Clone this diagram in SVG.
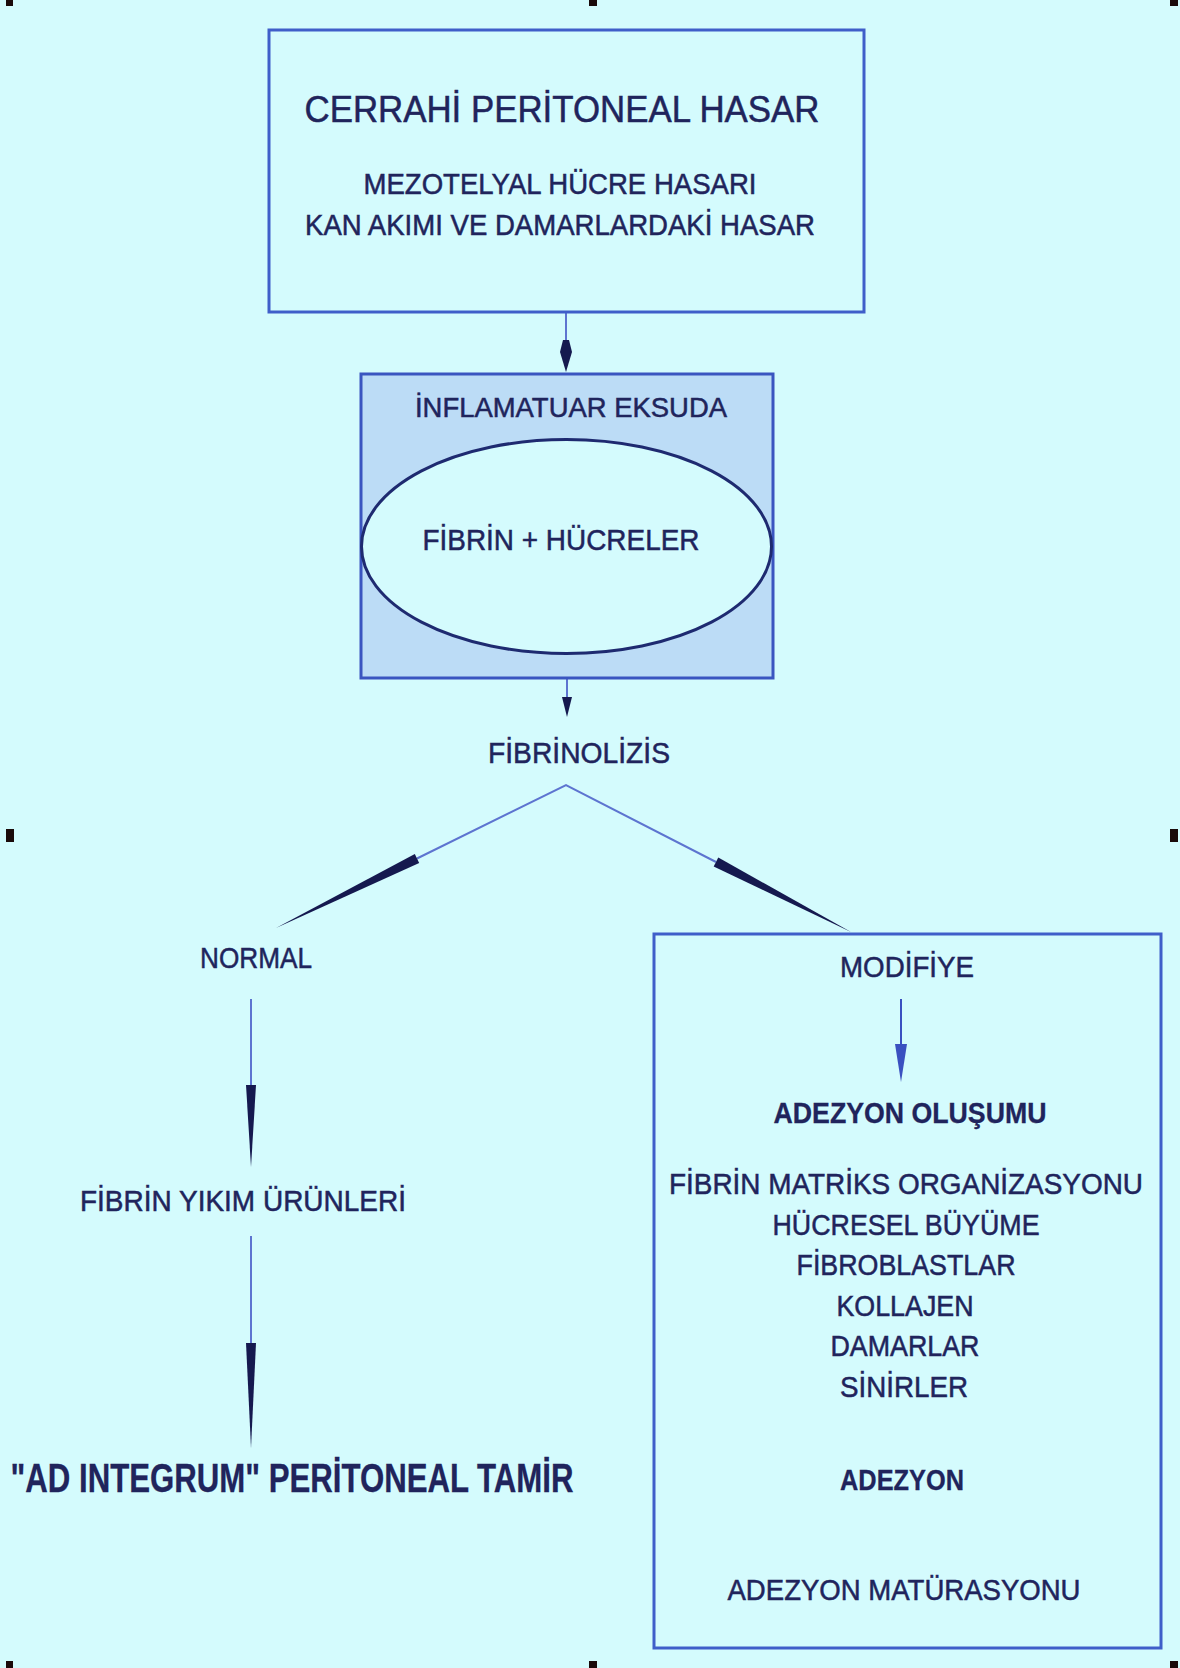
<svg xmlns="http://www.w3.org/2000/svg" width="1180" height="1668" viewBox="0 0 1180 1668">
<style>
.t{font-family:"Liberation Sans",Arial,sans-serif;fill:#20245c;stroke:#20245c;stroke-width:0.5;text-anchor:middle}
.b{font-weight:bold;stroke-width:0.3}
.box{fill:none;stroke:#3f5ec9;stroke-width:3}
.thin{stroke:#5d74d0;stroke-width:2;fill:none}
.head{fill:#15194f}
.mk{fill:#1a0a0a}
</style>
<rect x="0" y="0" width="1180" height="1668" fill="#d4fbfd"/>
<g id="markers">
<rect class="mk" x="6" y="0" width="7" height="6"/>
<rect class="mk" x="589" y="0" width="8" height="6"/>
<rect class="mk" x="1170" y="0" width="8" height="6"/>
<rect class="mk" x="6" y="829" width="8" height="13"/>
<rect class="mk" x="1170" y="829" width="8" height="13"/>
<rect class="mk" x="6" y="1661" width="7" height="7"/>
<rect class="mk" x="589" y="1661" width="8" height="7"/>
<rect class="mk" x="1170" y="1661" width="8" height="7"/>
</g>
<g id="connectors">
<line class="thin" x1="566" y1="312" x2="566" y2="345"/>
<polygon class="head" points="563,340 569,340 572,352 566,372 560,352"/>
<line class="thin" x1="567" y1="678" x2="567" y2="700"/>
<polygon class="head" points="562,697 572,697 567,717"/>
<polyline class="thin" points="417,858.5 566,785 716,862"/>
<polygon class="head" points="419.2,863 414.8,854 276,928"/>
<polygon class="head" points="713.7,866.5 718.3,857.5 851,932"/>
<line class="thin" x1="251" y1="999" x2="251" y2="1090"/>
<polygon class="head" points="246,1085 256,1085 251,1167"/>
<line class="thin" x1="251" y1="1236" x2="251" y2="1348"/>
<polygon class="head" points="246,1343 256,1343 251,1448"/>
<line x1="901" y1="999" x2="901" y2="1050" stroke="#3a50c0" stroke-width="2"/>
<polygon points="895,1044 907,1044 901,1082" fill="#3a50c0"/>
</g>
<g id="node-cerrahi">
<rect class="box" x="269" y="30" width="595" height="282"/>
<text class="t" x="562" y="122" font-size="37" textLength="515" lengthAdjust="spacingAndGlyphs">CERRAHİ PERİTONEAL HASAR</text>
<text class="t" x="560" y="194" font-size="29" textLength="393" lengthAdjust="spacingAndGlyphs">MEZOTELYAL HÜCRE HASARI</text>
<text class="t" x="560" y="235" font-size="29" textLength="510" lengthAdjust="spacingAndGlyphs">KAN AKIMI VE DAMARLARDAKİ HASAR</text>
</g>
<g id="node-eksuda">
<rect x="361" y="374" width="412" height="304" fill="#bcdcf6" stroke="#3a55c0" stroke-width="3"/>
<text class="t" x="571" y="417" font-size="28" textLength="312" lengthAdjust="spacingAndGlyphs">İNFLAMATUAR EKSUDA</text>
<ellipse cx="566.5" cy="546.5" rx="205" ry="107" fill="#d4fbfd" stroke="#1e2a70" stroke-width="3"/>
<text class="t" x="561" y="550" font-size="30" textLength="277" lengthAdjust="spacingAndGlyphs">FİBRİN + HÜCRELER</text>
</g>
<g id="node-fibrinolizis">
<text class="t" x="579" y="763" font-size="30" textLength="182" lengthAdjust="spacingAndGlyphs">FİBRİNOLİZİS</text>
</g>
<g id="node-normal">
<text class="t" x="256" y="968" font-size="30" textLength="112" lengthAdjust="spacingAndGlyphs">NORMAL</text>
</g>
<g id="node-yikim">
<text class="t" x="243" y="1211" font-size="29" textLength="326" lengthAdjust="spacingAndGlyphs">FİBRİN YIKIM ÜRÜNLERİ</text>
</g>
<g id="node-tamir">
<text class="t b" x="292" y="1492" font-size="41" textLength="563" lengthAdjust="spacingAndGlyphs">"AD INTEGRUM" PERİTONEAL TAMİR</text>
</g>
<g id="node-modifiye">
<rect class="box" x="654" y="934" width="507" height="714"/>
<text class="t" x="907" y="977" font-size="30" textLength="134" lengthAdjust="spacingAndGlyphs">MODİFİYE</text>
<text class="t b" x="910" y="1123" font-size="29" textLength="273" lengthAdjust="spacingAndGlyphs">ADEZYON OLUŞUMU</text>
<text class="t" x="906" y="1194" font-size="29" textLength="474" lengthAdjust="spacingAndGlyphs">FİBRİN MATRİKS ORGANİZASYONU</text>
<text class="t" x="906" y="1235" font-size="29" textLength="267" lengthAdjust="spacingAndGlyphs">HÜCRESEL BÜYÜME</text>
<text class="t" x="906" y="1275" font-size="29" textLength="219" lengthAdjust="spacingAndGlyphs">FİBROBLASTLAR</text>
<text class="t" x="905" y="1316" font-size="29" textLength="137" lengthAdjust="spacingAndGlyphs">KOLLAJEN</text>
<text class="t" x="905" y="1356" font-size="29" textLength="149" lengthAdjust="spacingAndGlyphs">DAMARLAR</text>
<text class="t" x="904" y="1397" font-size="29" textLength="128" lengthAdjust="spacingAndGlyphs">SİNİRLER</text>
<text class="t b" x="902" y="1490" font-size="29" textLength="124" lengthAdjust="spacingAndGlyphs">ADEZYON</text>
<text class="t" x="904" y="1600" font-size="29" textLength="353" lengthAdjust="spacingAndGlyphs">ADEZYON MATÜRASYONU</text>
</g>
</svg>
